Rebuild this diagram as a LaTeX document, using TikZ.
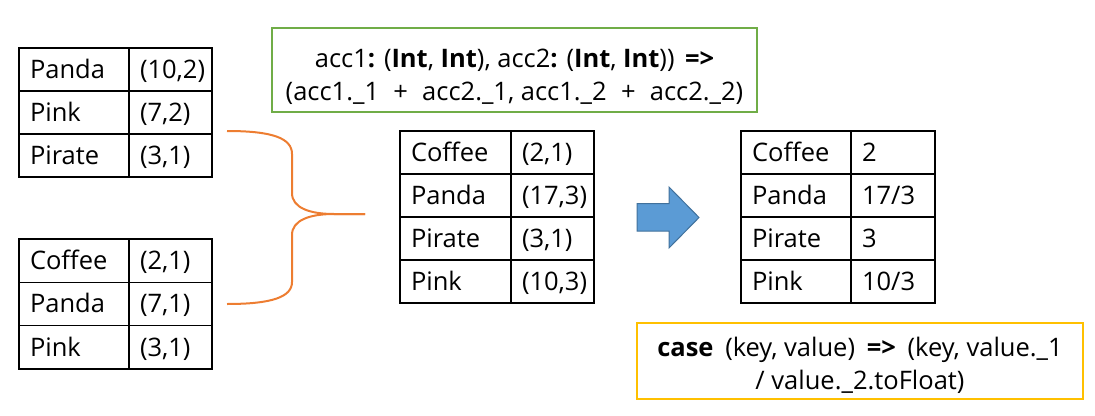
\documentclass[tikz,border=0pt]{standalone}
\usepackage{fontspec}
\setmainfont{Open Sans}
\definecolor{bracecol}{HTML}{ED7D31}
\definecolor{greenbox}{HTML}{70AD47}
\definecolor{yellowbox}{HTML}{FFC000}
\definecolor{arrowfill}{HTML}{5B9BD5}
\definecolor{arrowline}{HTML}{41719C}

% one table row: name, left x, divider x, right x, top y, row height, key, value
\newcommand{\cellrow}[8]{%
  \pgfmathsetmacro\keyw{#3-#2-22}%
  \pgfmathsetmacro\valw{#4-#3-22}%
  \node[cell, text width=\keyw pt, minimum height=#6pt] (#1k) at (#2,#5) {#7};
  \node[cell, text width=\valw pt, minimum height=#6pt] (#1v) at (#3,#5) {#8};
}

\tikzset{
  cell/.style={draw=black, line width=1.3pt, rectangle, anchor=north west,
    inner xsep=11pt, inner ysep=0pt, outer sep=0pt, align=left,
    text height=17.5pt, text depth=0pt},
  codebox/.style={draw, line width=2pt, rectangle, align=center, inner sep=0pt},
  brace/.style={draw=bracecol, line width=2pt},
  blockarrow/.style={fill=arrowfill, draw=arrowline, line width=1pt, line join=miter}
}

\begin{document}
\begin{tikzpicture}[x=1pt, y=-1pt, font=\fontsize{25.5}{33}\selectfont]
\useasboundingbox (0,0) rectangle (1095,415);

% first input partition
\cellrow{a1}{19}{129}{212}{48}{43}{Panda}{(10,2)}
\cellrow{a2}{19}{129}{212}{91}{43}{Pink}{(7,2)}
\cellrow{a3}{19}{129}{212}{134}{43}{Pirate}{(3,1)}

% second input partition
\cellrow{b1}{19}{129}{212}{239}{43.3}{Coffee}{(2,1)}
\cellrow{b2}{19}{129}{212}{282.3}{43.3}{Panda}{(7,1)}
\cellrow{b3}{19}{129}{212}{325.6}{43.3}{Pink}{(3,1)}

% reduced pairs
\cellrow{c1}{400}{511}{594}{131}{43}{Coffee}{(2,1)}
\cellrow{c2}{400}{511}{594}{174}{43}{Panda}{(17,3)}
\cellrow{c3}{400}{511}{594}{217}{43}{Pirate}{(3,1)}
\cellrow{c4}{400}{511}{594}{260}{43}{Pink}{(10,3)}

% averages
\cellrow{d1}{741}{851}{935}{131}{43}{Coffee}{2}
\cellrow{d2}{741}{851}{935}{174}{43}{Panda}{17/3}
\cellrow{d3}{741}{851}{935}{217}{43}{Pirate}{3}
\cellrow{d4}{741}{851}{935}{260}{43}{Pink}{10/3}

% merge function (the strut lowers the two lines inside the box)
\node[codebox, draw=greenbox, minimum width=485pt, minimum height=84pt] (merge) at (514.5,70)
  {\rule{0pt}{32pt}acc1\textbf{:} (\textbf{Int}, \textbf{Int}), acc2\textbf{:} (\textbf{Int}, \textbf{Int}))\hspace{0.15em} \textbf{=>}\\
   (acc1.\_1\hspace{0.3em} +\hspace{0.3em} acc2.\_1, acc1.\_2\hspace{0.3em} +\hspace{0.3em} acc2.\_2)};

% map function
\node[codebox, draw=yellowbox, minimum width=446pt, minimum height=76pt] (mapfn) at (860,361)
  {\rule{0pt}{28pt}\textbf{case}\hspace{0.2em} (key, value)\hspace{0.2em} \textbf{=>}\hspace{0.2em} (key, value.\_1\\
   / value.\_2.toFloat)};

% brace joining the two partitions
\coordinate (braceTop) at (227,131);
\coordinate (braceBot) at (227,304);
\coordinate (braceTip) at (365,214);
\draw[brace] (braceTop) .. controls (272,131) and (292,138) .. (292,154)
  -- (292,193) .. controls (292,208) and (310,214) .. (334,214) -- (braceTip);
\draw[brace] (braceTip) -- (334,214) .. controls (310,214) and (292,220) .. (292,235)
  -- (292,282) .. controls (292,297) and (272,304) .. (braceBot);

% block arrow between the tables
\path[blockarrow] (637,203.5) -- (669,203.5) -- (669,187) -- (699,217.5)
  -- (669,248) -- (669,231) -- (637,231) -- cycle;
\end{tikzpicture}
\end{document}
